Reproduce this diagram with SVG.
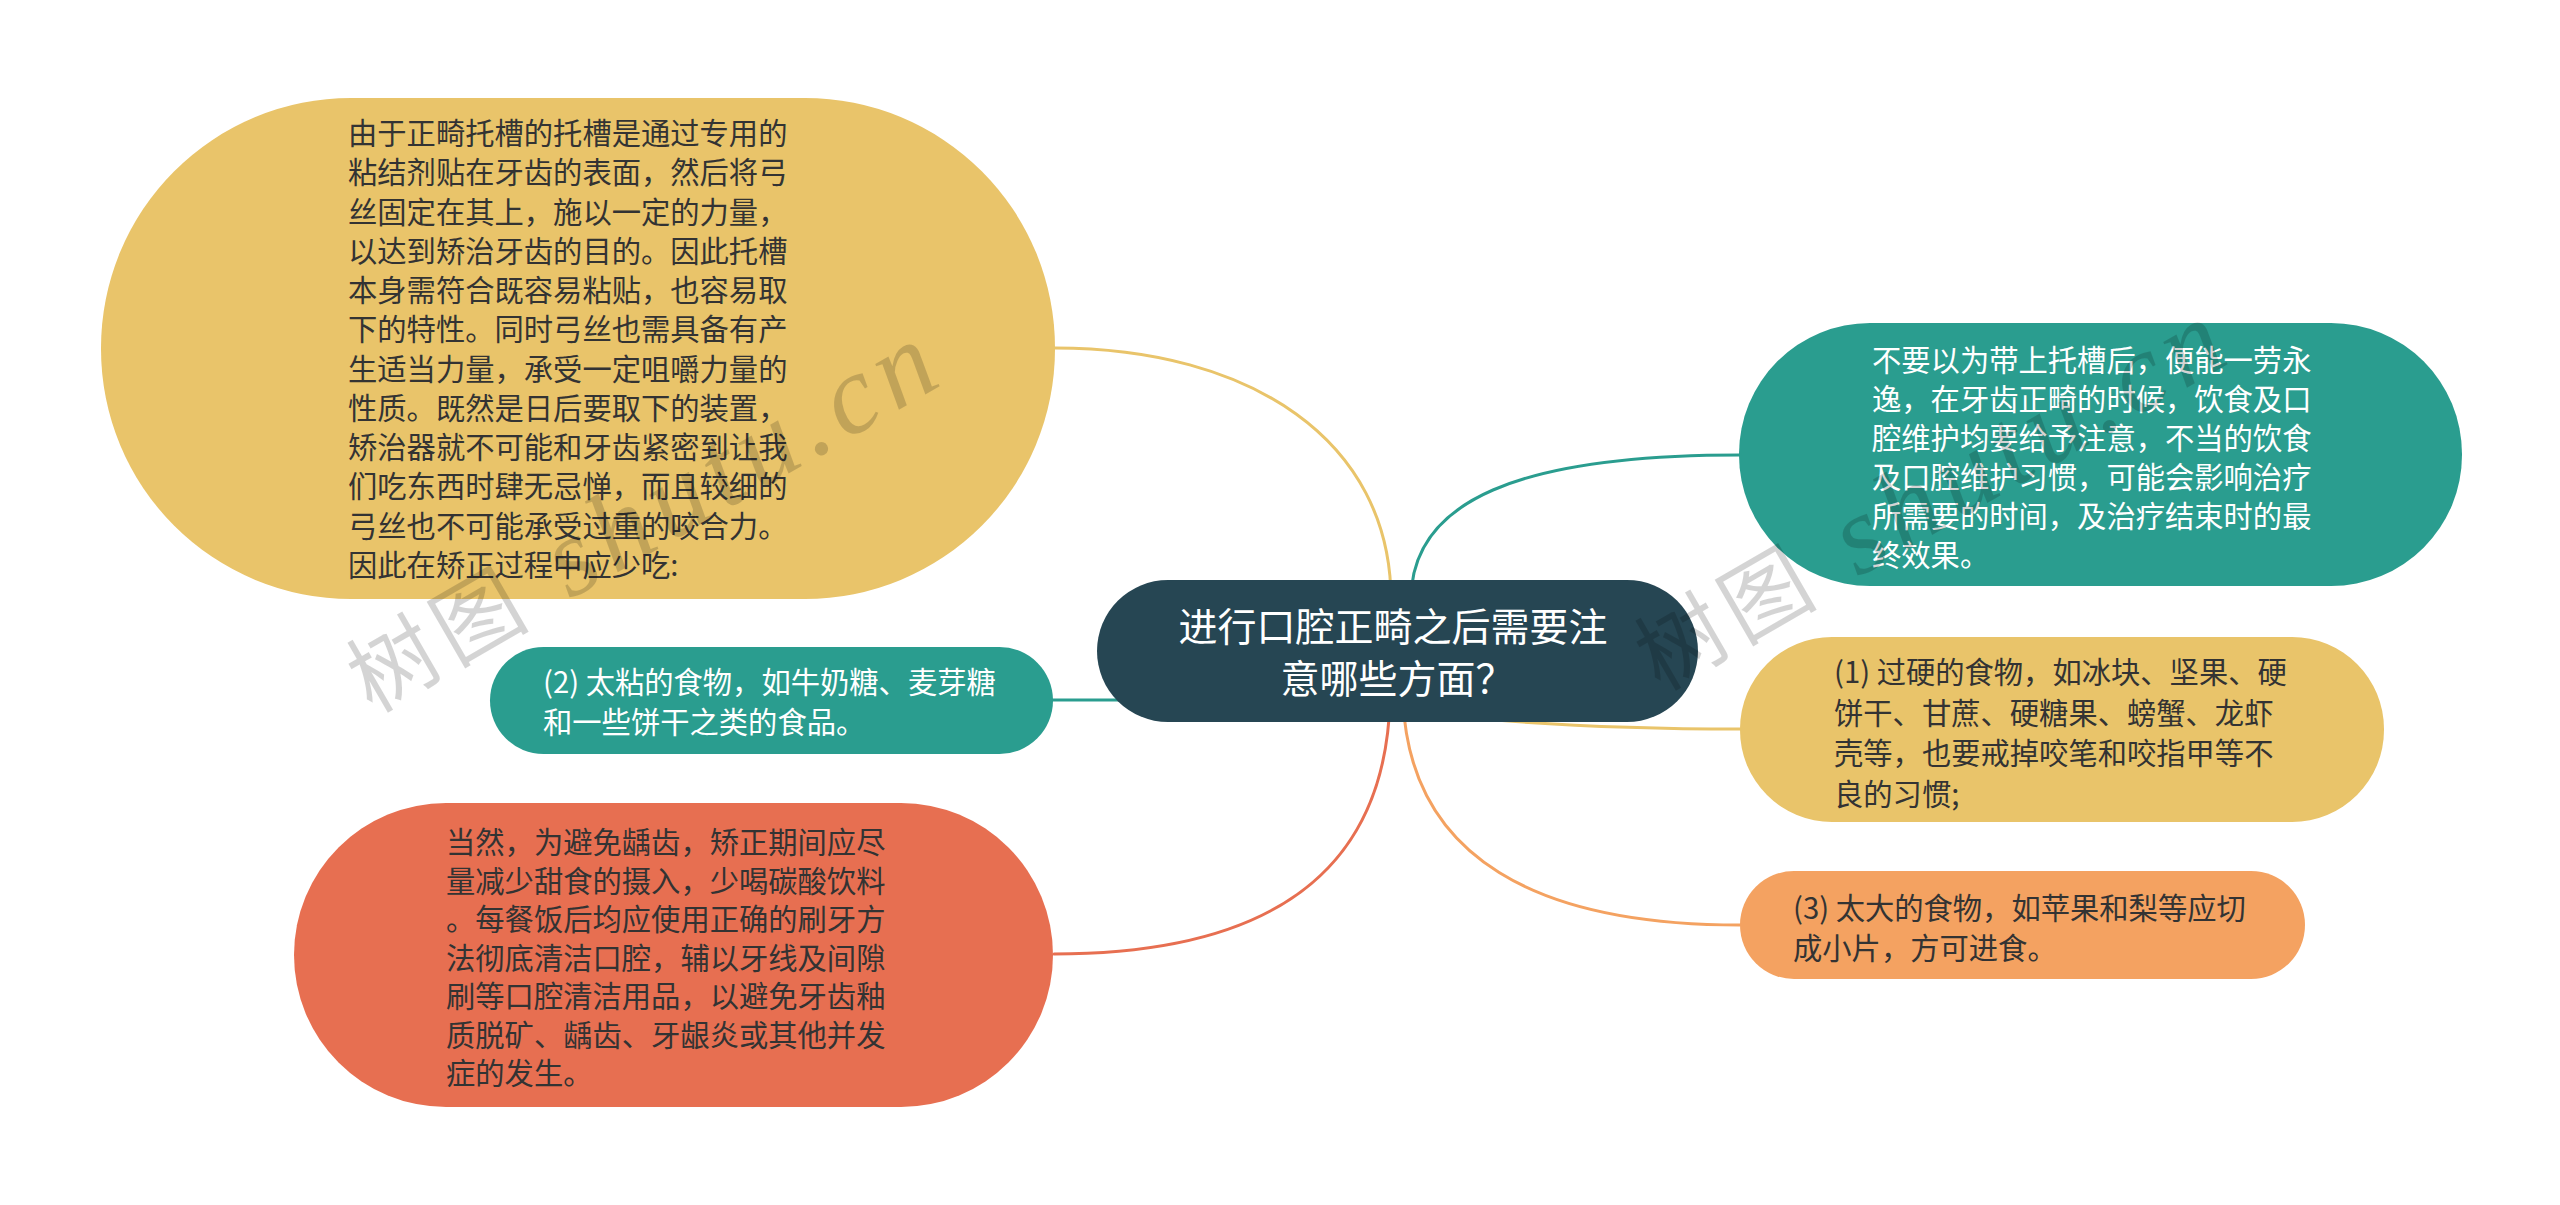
<svg xmlns="http://www.w3.org/2000/svg" width="2560" height="1205" viewBox="0 0 2560 1205">
<style>
.t{font-family:"Noto Sans CJK SC","Noto Sans",sans-serif;font-size:29.3px}
.dk{fill:#333333}
.wh{fill:#ffffff}
.ct{font-family:"Noto Sans CJK SC","Noto Sans",sans-serif;font-size:39px;fill:#ffffff;text-anchor:middle}
.ln{fill:none;stroke-width:3;stroke-linecap:round}
.wm{font-family:"Liberation Serif","Noto Sans CJK SC",serif;font-size:88px;letter-spacing:8px;fill:#000000;fill-opacity:0.17}
.wl{font-size:112px;font-style:italic}
</style>
<rect width="2560" height="1205" fill="#ffffff"/>
<g id="connectors">
<path class="ln" stroke="#E9C46A" d="M1055,348 C1250,348 1391,440 1391,600"/>
<path class="ln" stroke="#2A9D8F" d="M1411,600 C1411,500 1520,455 1740,455"/>
<path class="ln" stroke="#2A9D8F" d="M1052,700 L1200,700"/>
<path class="ln" stroke="#E9C46A" d="M1450,716 C1550,726 1650,729 1740,729"/>
<path class="ln" stroke="#F4A261" d="M1403,700 C1410,860 1540,925 1740,925"/>
<path class="ln" stroke="#E76F51" d="M1390,700 C1385,880 1260,954 1054,954"/>
</g>
<g id="node-top-left">
<rect x="101" y="98" width="954" height="501" rx="250" ry="250" fill="#E9C46A"/>
<text class="t dk">
<tspan x="348" y="144">由于正畸托槽的托槽是通过专用的</tspan>
<tspan x="348" y="183.3">粘结剂贴在牙齿的表面，然后将弓</tspan>
<tspan x="348" y="222.5">丝固定在其上，施以一定的力量，</tspan>
<tspan x="348" y="261.8">以达到矫治牙齿的目的。因此托槽</tspan>
<tspan x="348" y="301.1">本身需符合既容易粘贴，也容易取</tspan>
<tspan x="348" y="340.4">下的特性。同时弓丝也需具备有产</tspan>
<tspan x="348" y="379.6">生适当力量，承受一定咀嚼力量的</tspan>
<tspan x="348" y="418.9">性质。既然是日后要取下的装置，</tspan>
<tspan x="348" y="458.2">矫治器就不可能和牙齿紧密到让我</tspan>
<tspan x="348" y="497.4">们吃东西时肆无忌惮，而且较细的</tspan>
<tspan x="348" y="536.7">弓丝也不可能承受过重的咬合力。</tspan>
<tspan x="348" y="576">因此在矫正过程中应少吃:</tspan>
</text>
</g>
<g id="node-top-right">
<rect x="1739" y="323" width="723" height="263" rx="131" ry="131" fill="#2A9D8F"/>
<text class="t wh">
<tspan x="1872" y="371">不要以为带上托槽后，便能一劳永</tspan>
<tspan x="1872" y="410">逸，在牙齿正畸的时候，饮食及口</tspan>
<tspan x="1872" y="449">腔维护均要给予注意，不当的饮食</tspan>
<tspan x="1872" y="488">及口腔维护习惯，可能会影响治疗</tspan>
<tspan x="1872" y="527">所需要的时间，及治疗结束时的最</tspan>
<tspan x="1872" y="566">终效果。</tspan>
</text>
</g>
<g id="node-2">
<rect x="490" y="647" width="563" height="107" rx="53.5" ry="53.5" fill="#2A9D8F"/>
<text class="t wh">
<tspan x="543" y="693">(2) 太粘的食物，如牛奶糖、麦芽糖</tspan>
<tspan x="543" y="733">和一些饼干之类的食品。</tspan>
</text>
</g>
<g id="node-bottom-left">
<rect x="294" y="803" width="759" height="304" rx="152" ry="152" fill="#E76F51"/>
<text class="t dk">
<tspan x="446" y="853">当然，为避免龋齿，矫正期间应尽</tspan>
<tspan x="446" y="891.5">量减少甜食的摄入，少喝碳酸饮料</tspan>
<tspan x="446" y="930">。每餐饭后均应使用正确的刷牙方</tspan>
<tspan x="446" y="968.5">法彻底清洁口腔，辅以牙线及间隙</tspan>
<tspan x="446" y="1007">刷等口腔清洁用品，以避免牙齿釉</tspan>
<tspan x="446" y="1045.5">质脱矿、龋齿、牙龈炎或其他并发</tspan>
<tspan x="446" y="1084">症的发生。</tspan>
</text>
</g>
<g id="node-1">
<rect x="1740" y="637" width="644" height="185" rx="92" ry="92" fill="#E9C46A"/>
<text class="t dk">
<tspan x="1834" y="683">(1) 过硬的食物，如冰块、坚果、硬</tspan>
<tspan x="1834" y="723.5">饼干、甘蔗、硬糖果、螃蟹、龙虾</tspan>
<tspan x="1834" y="764">壳等，也要戒掉咬笔和咬指甲等不</tspan>
<tspan x="1834" y="804.5">良的习惯;</tspan>
</text>
</g>
<g id="node-3">
<rect x="1740" y="871" width="565" height="108" rx="54" ry="54" fill="#F4A261"/>
<text class="t dk">
<tspan x="1793" y="919">(3) 太大的食物，如苹果和梨等应切</tspan>
<tspan x="1793" y="959">成小片，方可进食。</tspan>
</text>
</g>
<g id="node-root">
<rect x="1097" y="580" width="601" height="142" rx="71" ry="71" fill="#264653"/>
<text class="ct">
<tspan x="1397.5" y="641">进行口腔正畸之后需要注</tspan>
<tspan x="1397.5" y="693">意哪些方面？</tspan>
</text>
</g>
<g id="watermark">
<text class="wm" transform="translate(372,714) rotate(-30)">树图<tspan class="wl"> shutu.cn</tspan></text>
<text class="wm" transform="translate(1660,692) rotate(-30)">树图<tspan class="wl"> shutu.cn</tspan></text>
</g>
</svg>
